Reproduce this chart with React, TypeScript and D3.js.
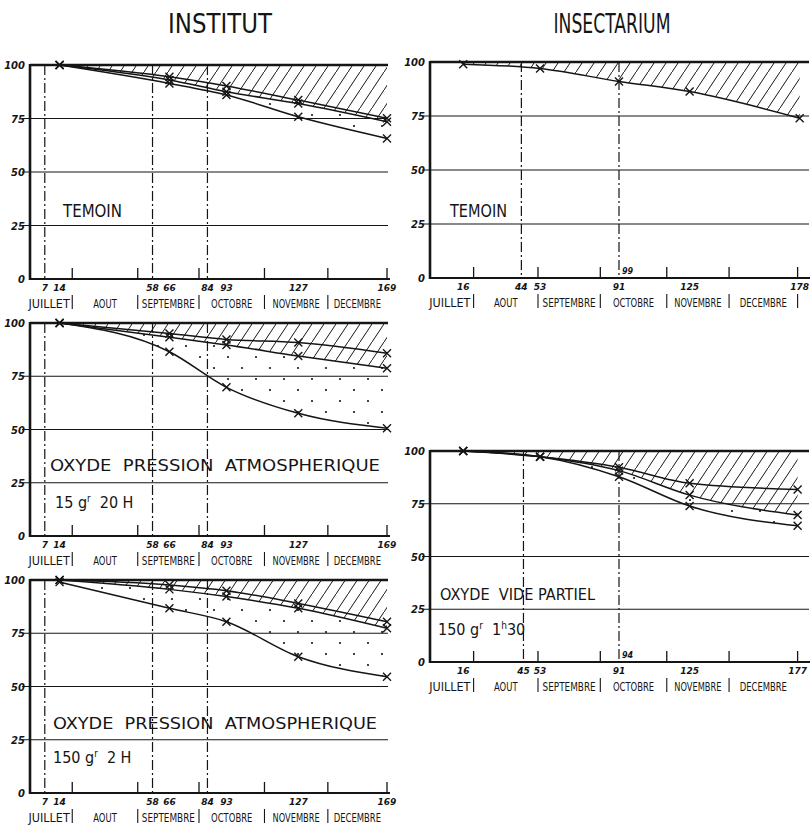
import React from 'react';
import * as d3 from 'd3';

// month names under each x axis
const months = ["JUILLET", "AOUT", "SEPTEMBRE", "OCTOBRE", "NOVEMBRE", "DECEMBRE"];
const yTicks = [0, 25, 50, 75, 100];

// month boundaries, in days from the start of the trial
const instMonthBounds = [0, 20, 51, 80, 111, 141, 169];
const insecMonthBounds = [0, 21, 52, 82, 114, 144, 177];

// INSTITUT: days of weighing and labels
const instDays = [14, 66, 93, 127, 169];
const instDayLabels = [7, 14, 58, 66, 84, 93, 127, 169];
const instGuides = [7, 58, 84];

// INSTITUT - TEMOIN (% remaining)
const temoinTop = [100, 94.5, 90.2, 83.6, 75.1];
const temoinMid = [100, 93, 87.5, 82, 73.5];
const temoinLow = [100, 91.4, 86, 75.8, 65.7];

// INSTITUT - oxyde pression atmospherique 15 gr 20 H
const oxy20Top = [100, 95.1, 92.3, 90.8, 85.8];
const oxy20Mid = [100, 93.3, 89.7, 84.5, 78.7];
const oxy20Low = [100, 86.5, 69.8, 57.6, 50.6];

// INSTITUT - oxyde pression atmospherique 150 gr 2 H
const oxy2Top = [100, 97.7, 95, 89, 80.4];
const oxy2Mid = [100, 95.6, 92.2, 86.7, 77.3];
const oxy2Low = [99, 86.7, 80.4, 64, 54.6];

// INSECTARIUM - TEMOIN
const insTemDays = [16, 53, 91, 125, 178];
const insTemDayLabels = [16, 44, 53, 91, 125, 178];
const insTemGuides = [44, 91];
const insTemoin = [99, 97, 91, 86.3, 74];

// INSECTARIUM - oxyde vide partiel 150 gr 1h30
const videDays = [16, 53, 91, 125, 177];
const videDayLabels = [16, 45, 53, 91, 125, 177];
const videGuides = [45, 91];
const videTop = [100, 97.3, 92.3, 84.7, 81.8];
const videMid = [100, 97.3, 90.7, 79.1, 69.7];
const videLow = [100, 97.3, 87.8, 73.9, 64.6];

const INK = "#151515";
const cond = "'DejaVu Sans Condensed', 'Liberation Sans Narrow', 'DejaVu Sans', sans-serif";
const numFont = "'DejaVu Sans', sans-serif";

interface PanelProps {
  left: number;
  right: number;
  top: number;
  bottom: number;
  maxDay: number;
  days: number[];
  curves: number[][];
  dayLabels: number[];
  guides: number[];
  monthBounds: number[];
  endSeparator?: boolean;
  note?: { day: number; text: string };
  children?: React.ReactNode;
}

const Panel: React.FC<PanelProps> = ({
  left, right, top, bottom, maxDay, days, curves, dayLabels, guides,
  monthBounds, endSeparator = false, note, children
}) => {
  const x = d3.scaleLinear().domain([0, maxDay]).range([left, right]);
  const y = d3.scaleLinear().domain([0, 100]).range([bottom, top]);

  const line = d3.line<number>()
    .x((_, i) => x(days[i]))
    .y(d => y(d))
    .curve(d3.curveMonotoneX);

  const hatchIdx = curves.length === 1 ? 0 : 1;
  const hatchArea = d3.area<number>()
    .x((_, i) => x(days[i]))
    .y0(y(100))
    .y1(d => y(d))
    .curve(d3.curveMonotoneX);

  const dotsArea = curves.length > 2
    ? d3.area<number>()
        .x((_, i) => x(days[i]))
        .y0((_, i) => y(curves[2][i]))
        .y1(d => y(d))
        .curve(d3.curveMonotoneX)(curves[1])
    : null;

  const x0 = x(0);
  const xEnd = right + 1;
  const sepEnd = endSeparator ? monthBounds.length : monthBounds.length - 1;

  return (
    <g>
      {/* fills */}
      <path d={hatchArea(curves[hatchIdx]) || ''} fill="url(#hatch)" />
      {dotsArea && <path d={dotsArea} fill="url(#dots)" />}

      {/* grid lines */}
      {yTicks.filter(t => t > 0 && t < 100).map(t => (
        <line key={t} x1={x0 - 8} x2={xEnd} y1={y(t)} y2={y(t)} stroke={INK} strokeWidth={1.2} />
      ))}
      <line x1={x0} x2={xEnd} y1={y(100)} y2={y(100)} stroke={INK} strokeWidth={2.6} />
      <line x1={x0} x2={xEnd + 2} y1={y(0)} y2={y(0)} stroke={INK} strokeWidth={2} />
      <line x1={x0} x2={x0} y1={y(100) - 1} y2={y(0) + 1} stroke={INK} strokeWidth={2.6} />

      {/* dash-dot guides */}
      {guides.map(g => (
        <line key={g} x1={x(g)} x2={x(g)} y1={y(100)} y2={y(0)}
          stroke={INK} strokeWidth={1.2} strokeDasharray="10,3,2,3" />
      ))}

      {/* y labels */}
      {yTicks.map(t => (
        <text key={t} x={x0 - 5} y={y(t) + 4} textAnchor="end" fontSize={10}
          fontFamily={numFont} fontStyle="italic" fontWeight="bold" fill={INK}>{t}</text>
      ))}

      {/* month ticks and separators */}
      {monthBounds.slice(1).map((b, i) => (
        <line key={'t' + i} x1={x(b)} x2={x(b)} y1={y(0) - 11} y2={y(0)} stroke={INK} strokeWidth={1.3} />
      ))}
      {monthBounds.slice(1, sepEnd).map((b, i) => (
        <line key={'s' + i} x1={x(b)} x2={x(b)} y1={y(0) + 16} y2={y(0) + 30} stroke={INK} strokeWidth={1.1} />
      ))}
      {months.map((m, i) => (
        <text key={m} x={(x(monthBounds[i]) + x(monthBounds[i + 1])) / 2 + (i === 0 ? -2 : 0)} y={y(0) + 29}
          textAnchor="middle" fontSize={13} fontFamily={cond} fill={INK}
          textLength={m.length * 5.9} lengthAdjust="spacingAndGlyphs">{m}</text>
      ))}

      {/* day labels */}
      {dayLabels.map(d => (
        <text key={d} x={x(d)} y={y(0) + 12} textAnchor="middle" fontSize={9}
          fontFamily={numFont} fontStyle="italic" fontWeight="bold" fill={INK}>{d}</text>
      ))}
      {note && (
        <text x={x(note.day) + 3} y={y(0) - 4} fontSize={8} fontFamily={numFont}
          fontStyle="italic" fontWeight="bold" fill={INK}>{note.text}</text>
      )}

      {/* curves and crosses */}
      {curves.map((c, ci) => (
        <g key={ci}>
          <path d={line(c) || ''} fill="none" stroke={INK} strokeWidth={1.5} />
          {c.map((v, i) => (
            <path key={i} transform={`translate(${x(days[i])},${y(v)})`}
              d="M-4,-4L4,4M-4,4L4,-4" stroke={INK} strokeWidth={1.4} fill="none" />
          ))}
        </g>
      ))}

      {children}
    </g>
  );
};

const Gr: React.FC<{ x: number; y: number; a: string; b: string; size?: number }> = ({ x, y, a, b, size = 16 }) => (
  <text x={x} y={y} fontSize={size} fontFamily={cond} fill={INK} style={{ whiteSpace: 'pre' }}>
    {a} g<tspan fontSize={size * 0.6} dy={-size * 0.4}>r</tspan>
    <tspan dy={size * 0.4}>{'  ' + b}</tspan>
  </text>
);

export default function App() {
  const label = (x: number, y: number, s: string, len: number, size = 16) => (
    <text x={x} y={y} fontSize={size} fontFamily={cond} fill={INK} style={{ whiteSpace: 'pre' }}
      textLength={len} lengthAdjust="spacingAndGlyphs">{s}</text>
  );

  return (
    <svg width={810} height={829} style={{ display: 'block', position: 'absolute', left: 0, top: 0, background: '#fff' }}>
      <defs>
        <pattern id="hatch" patternUnits="userSpaceOnUse" width={12} height={18}>
          <line x1={-1} y1={19.5} x2={13} y2={-1.5} stroke={INK} strokeWidth={1} />
        </pattern>
        <pattern id="dots" patternUnits="userSpaceOnUse" width={28} height={22}>
          <circle cx={4} cy={5} r={1.1} fill={INK} />
          <circle cx={18} cy={16} r={1.1} fill={INK} />
        </pattern>
      </defs>
      <rect width={810} height={829} fill="#fff" />

      <text x={220} y={33} textAnchor="middle" fontSize={27} fontFamily={cond} fill={INK}
        textLength={104} lengthAdjust="spacingAndGlyphs">INSTITUT</text>
      <text x={612} y={33} textAnchor="middle" fontSize={27} fontFamily={cond} fill={INK}
        textLength={117} lengthAdjust="spacingAndGlyphs">INSECTARIUM</text>

      <Panel left={30} right={387} top={65} bottom={279} maxDay={169}
        days={instDays} curves={[temoinTop, temoinMid, temoinLow]}
        dayLabels={instDayLabels} guides={instGuides} monthBounds={instMonthBounds}>
        {label(63, 217, "TEMOIN", 59, 17)}
      </Panel>

      <Panel left={30} right={387} top={323} bottom={536} maxDay={169}
        days={instDays} curves={[oxy20Top, oxy20Mid, oxy20Low]}
        dayLabels={instDayLabels} guides={instGuides} monthBounds={instMonthBounds}>
        {label(50, 471, "OXYDE  PRESSION  ATMOSPHERIQUE", 330, 15)}
        <Gr x={55} y={508} a="15" b="20 H" size={16} />
      </Panel>

      <Panel left={30} right={387} top={580} bottom={793} maxDay={169}
        days={instDays} curves={[oxy2Top, oxy2Mid, oxy2Low]}
        dayLabels={instDayLabels} guides={instGuides} monthBounds={instMonthBounds}>
        {label(53, 729, "OXYDE  PRESSION  ATMOSPHERIQUE", 324, 16)}
        <Gr x={53} y={763} a="150" b="2 H" size={16} />
      </Panel>

      <Panel left={430} right={808} top={62} bottom={278} maxDay={182}
        days={insTemDays} curves={[insTemoin]}
        dayLabels={insTemDayLabels} guides={insTemGuides} monthBounds={insecMonthBounds}
        endSeparator note={{ day: 91, text: "99" }}>
        {label(450, 217, "TEMOIN", 57, 17)}
      </Panel>

      <Panel left={430} right={808} top={451} bottom={662} maxDay={182}
        days={videDays} curves={[videTop, videMid, videLow]}
        dayLabels={videDayLabels} guides={videGuides} monthBounds={insecMonthBounds}
        note={{ day: 91, text: "94" }}>
        {label(440, 600, "OXYDE  VIDE PARTIEL", 155, 16)}
        <text x={438} y={635} fontSize={16} fontFamily={cond} fill={INK} style={{ whiteSpace: 'pre' }}>
          150 g<tspan fontSize={10} dy={-6}>r</tspan>
          <tspan dy={6}>{'  1'}</tspan>
          <tspan fontSize={10} dy={-6}>h</tspan>
          <tspan dy={6}>30</tspan>
        </text>
      </Panel>
    </svg>
  );
}
